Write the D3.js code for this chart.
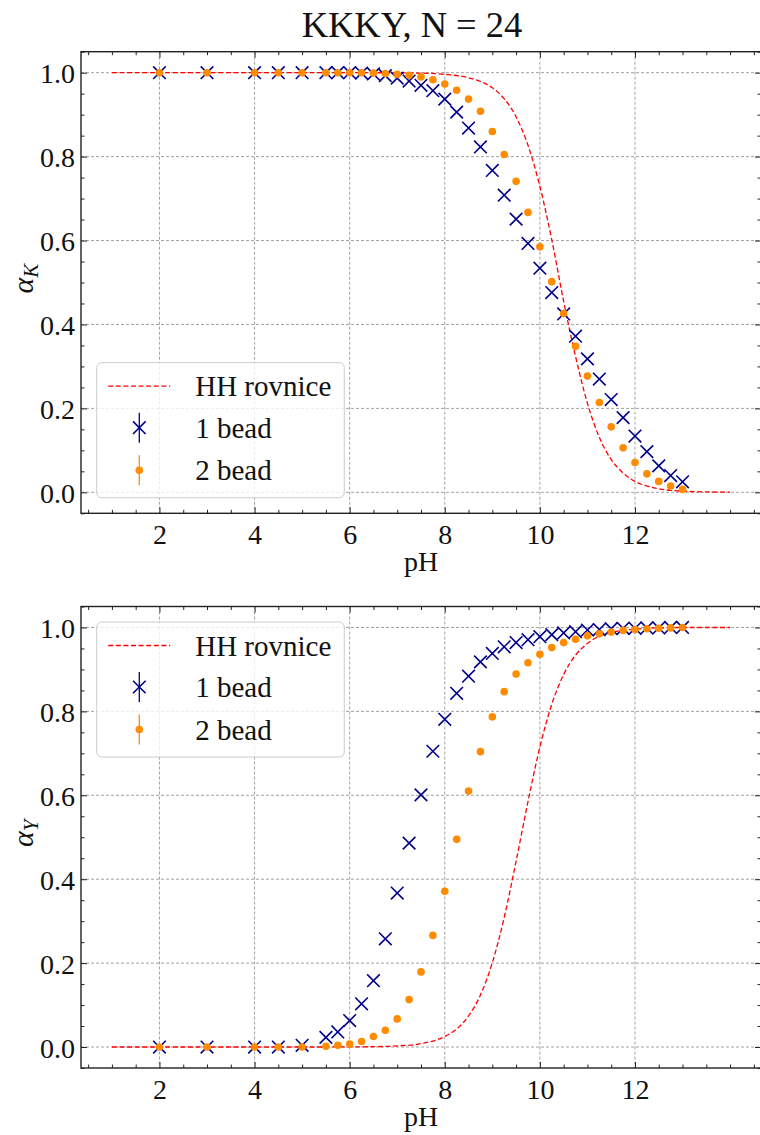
<!DOCTYPE html>
<html><head><meta charset="utf-8">
<script src="https://cdn.jsdelivr.net/npm/d3@7"></script>
<style>
body{margin:0;background:#fff}
svg text{font-family:'Liberation Serif','Times New Roman','DejaVu Serif',serif !important;}
</style>
</head><body>
<svg id="chart" width="760" height="1135"></svg>
<script>
// ---------- data ----------
const titleText = "KKKY, N = 24";
const pH = [2,3,4,4.5,5,5.5,5.75,6,6.25,6.5,6.75,7,7.25,7.5,7.75,8,8.25,8.5,8.75,9,9.25,9.5,9.75,10,10.25,10.5,10.75,11,11.25,11.5,11.75,12,12.25,12.5,12.75,13];
const alphaK_1bead = [1,1,1,1,1,1,1,1,0.999,0.997,0.993,0.987,0.980,0.970,0.957,0.937,0.906,0.868,0.823,0.767,0.708,0.651,0.593,0.534,0.476,0.425,0.372,0.318,0.270,0.221,0.178,0.134,0.097,0.063,0.040,0.025];
const alphaK_2bead = [1,1,1,1,1,1,1,1,1,0.999,0.998,0.996,0.994,0.990,0.983,0.973,0.958,0.937,0.908,0.860,0.805,0.741,0.667,0.585,0.502,0.426,0.348,0.277,0.214,0.156,0.106,0.071,0.044,0.026,0.015,0.007];
const alphaY_1bead = [0,0,0,0,0.004,0.023,0.036,0.063,0.103,0.158,0.258,0.367,0.486,0.601,0.705,0.781,0.843,0.884,0.918,0.938,0.954,0.964,0.971,0.978,0.983,0.987,0.990,0.994,0.995,0.997,0.998,0.998,0.999,0.999,1,1];
const alphaY_2bead = [0,0,0,0,0,0.002,0.004,0.007,0.013,0.025,0.040,0.067,0.113,0.179,0.266,0.371,0.495,0.610,0.704,0.787,0.847,0.889,0.916,0.936,0.952,0.964,0.972,0.980,0.985,0.989,0.993,0.995,0.997,0.998,0.999,1];
const hhK_pH = [1,5,6,7,7.5,8,8.5,8.75,9,9.25,9.5,9.75,10,10.25,10.5,10.75,11,11.25,11.5,11.75,12,12.25,12.5,13,13.5,14];
const hhK_val = [1,1,1,0.9995,0.999,0.996,0.988,0.979,0.964,0.938,0.895,0.827,0.729,0.602,0.455,0.324,0.212,0.131,0.078,0.046,0.026,0.015,0.0084,0.0027,0.001,0.0003];
const hhY_pH = [1,5,6,6.5,7,7.5,8,8.25,8.5,8.75,9,9.25,9.5,9.75,10,10.25,10.5,10.75,11,11.5,12,12.5,13,14];
const hhY_val = [0,0,0.0003,0.0008,0.0025,0.008,0.025,0.043,0.074,0.124,0.201,0.309,0.443,0.585,0.715,0.817,0.888,0.934,0.962,0.988,0.996,0.999,1,1];
const xTicks = [2,4,6,8,10,12];
const yTicks = [0,0.2,0.4,0.6,0.8,1.0];
const legendLabels = ["HH rovnice","1 bead","2 bead"];

// ---------- drawing ----------
const FONT = "'Liberation Serif','Times New Roman','DejaVu Serif',serif";
const svg = d3.select('#chart');
svg.append('rect').attr('width',760).attr('height',1135).attr('fill','#fff');

const x = d3.scaleLinear().domain([0.35,14.65]).range([81,761]);
const xMinor = d3.range(1,30).map(i=>i*0.5).filter(v=>!xTicks.includes(v));
const yMinor = d3.range(-1,22).map(i=>+(i*0.05).toFixed(2)).filter(v=>!yTicks.some(t=>Math.abs(t-v)<1e-9));

svg.append('text').attr('x',412).attr('y',37).attr('text-anchor','middle')
  .style('font-family',FONT).attr('font-size',36.5).attr('fill','#111').text(titleText);

const panels = [
  {top:51.7, bottom:513.3, s1:alphaK_1bead, s2:alphaK_2bead, hx:hhK_pH, hy:hhK_val, sub:'K', legTop:362.7},
  {top:606.5, bottom:1068, s1:alphaY_1bead, s2:alphaY_2bead, hx:hhY_pH, hy:hhY_val, sub:'Y', legTop:622}
];

function styleAxis(g){
  g.attr('font-family',null);
  g.select('.domain').remove();
  g.selectAll('.tick line').attr('stroke','#222').attr('stroke-width',1);
  g.selectAll('text').style('font-family',FONT).attr('font-size',28).attr('fill','#111');
}

panels.forEach(p=>{
  const y = d3.scaleLinear().domain([-0.05,1.05]).range([p.bottom,p.top]);
  const L=81, R=761, T=p.top, B=p.bottom;
  const g = svg.append('g');

  // grid
  const grid = g.append('g');
  grid.selectAll('line.gx').data(xTicks).join('line')
    .attr('x1',d=>x(d)).attr('x2',d=>x(d)).attr('y1',T).attr('y2',B)
    .attr('stroke','#8a8a8a').attr('stroke-width',0.8).attr('stroke-dasharray','3,2');
  grid.selectAll('line.gy').data(yTicks).join('line')
    .attr('y1',d=>y(d)).attr('y2',d=>y(d)).attr('x1',L).attr('x2',R)
    .attr('stroke','#8a8a8a').attr('stroke-width',0.8).attr('stroke-dasharray','3,2');

  // HH line
  const hh = p.hx.map((v,i)=>[v,p.hy[i]]);
  g.append('path').datum(hh)
    .attr('d',d3.line().x(d=>x(d[0])).y(d=>y(d[1])).curve(d3.curveMonotoneX))
    .attr('fill','none').attr('stroke','#ff0000').attr('stroke-width',1.3).attr('stroke-dasharray','5,2.6');

  // 1 bead crosses
  const c = 6.3;
  const cr = g.append('g');
  pH.forEach((v,i)=>{
    const cx=x(v), cy=y(p.s1[i]);
    cr.append('path').attr('d',`M${cx-c},${cy-c}L${cx+c},${cy+c}M${cx-c},${cy+c}L${cx+c},${cy-c}`)
      .attr('stroke','#00008b').attr('stroke-width',1.6).attr('fill','none');
  });
  // 2 bead dots
  g.append('g').selectAll('circle').data(pH).join('circle')
    .attr('cx',d=>x(d)).attr('cy',(d,i)=>y(p.s2[i])).attr('r',3.8).attr('fill','#ff8c00');

  // axes (inward ticks)
  const ax = g.append('g').attr('transform',`translate(0,${B})`)
    .call(d3.axisBottom(x).tickValues(xTicks).tickSize(-6).tickPadding(11).tickFormat(d3.format('d')));
  styleAxis(ax);
  const axm = g.append('g').attr('transform',`translate(0,${B})`)
    .call(d3.axisBottom(x).tickValues(xMinor).tickSize(-3.5).tickFormat(''));
  styleAxis(axm);
  const at = g.append('g').attr('transform',`translate(0,${T})`)
    .call(d3.axisTop(x).tickValues(xTicks).tickSize(-6).tickFormat(''));
  styleAxis(at);
  const atm = g.append('g').attr('transform',`translate(0,${T})`)
    .call(d3.axisTop(x).tickValues(xMinor).tickSize(-3.5).tickFormat(''));
  styleAxis(atm);
  const ay = g.append('g').attr('transform',`translate(${L},0)`)
    .call(d3.axisLeft(y).tickValues(yTicks).tickSize(-6).tickPadding(6).tickFormat(d3.format('.1f')));
  styleAxis(ay);
  ay.selectAll('text').attr('dy','0.36em');
  const aym = g.append('g').attr('transform',`translate(${L},0)`)
    .call(d3.axisLeft(y).tickValues(yMinor).tickSize(-3.5).tickFormat(''));
  styleAxis(aym);
  const ar = g.append('g').attr('transform',`translate(${R},0)`)
    .call(d3.axisRight(y).tickValues(yTicks).tickSize(-6).tickFormat(''));
  styleAxis(ar);
  const arm = g.append('g').attr('transform',`translate(${R},0)`)
    .call(d3.axisRight(y).tickValues(yMinor).tickSize(-3.5).tickFormat(''));
  styleAxis(arm);

  // frame
  g.append('rect').attr('x',L).attr('y',T).attr('width',R-L).attr('height',B-T)
    .attr('fill','none').attr('stroke','#222').attr('stroke-width',1.4);

  // labels
  g.append('text').attr('x',(L+R)/2).attr('y',B+58).attr('text-anchor','middle')
    .style('font-family',FONT).attr('font-size',28).attr('fill','#111').text('pH');
  const yl = g.append('text').attr('transform',`translate(33,${(T+B)/2-4}) rotate(-90)`)
    .attr('text-anchor','middle').style('font-family',FONT).attr('fill','#111');
  yl.append('tspan').attr('font-style','italic').attr('font-size',30).text('α');
  yl.append('tspan').attr('font-style','italic').attr('font-size',21).attr('dy',5).text(p.sub);

  // legend
  const lg = g.append('g').attr('transform',`translate(96.7,${p.legTop})`);
  lg.append('rect').attr('width',247.6).attr('height',135).attr('rx',5)
    .attr('fill','#fff').attr('fill-opacity',0.8).attr('stroke','#cccccc').attr('stroke-width',1);
  const rows = [23.5, 65, 107.5];
  lg.append('line').attr('x1',11.5).attr('x2',73.5).attr('y1',rows[0]).attr('y2',rows[0])
    .attr('stroke','#ff0000').attr('stroke-width',1.3).attr('stroke-dasharray','5,2.6');
  const mx = 42.6;
  lg.append('line').attr('x1',mx).attr('x2',mx).attr('y1',rows[1]-15).attr('y2',rows[1]+15)
    .attr('stroke','#00008b').attr('stroke-width',1.3);
  lg.append('path').attr('d',`M${mx-c},${rows[1]-c}L${mx+c},${rows[1]+c}M${mx-c},${rows[1]+c}L${mx+c},${rows[1]-c}`)
    .attr('stroke','#00008b').attr('stroke-width',1.6);
  lg.append('line').attr('x1',mx).attr('x2',mx).attr('y1',rows[2]-15).attr('y2',rows[2]+15)
    .attr('stroke','#ff8c00').attr('stroke-width',1.3);
  lg.append('circle').attr('cx',mx).attr('cy',rows[2]).attr('r',3.8).attr('fill','#ff8c00');
  lg.selectAll('text.lt').data(legendLabels).join('text')
    .attr('x',98.5).attr('y',(d,i)=>rows[i]+10).style('font-family',FONT).attr('font-size',29)
    .attr('fill','#111').text(d=>d);
});
</script>
</body></html>
